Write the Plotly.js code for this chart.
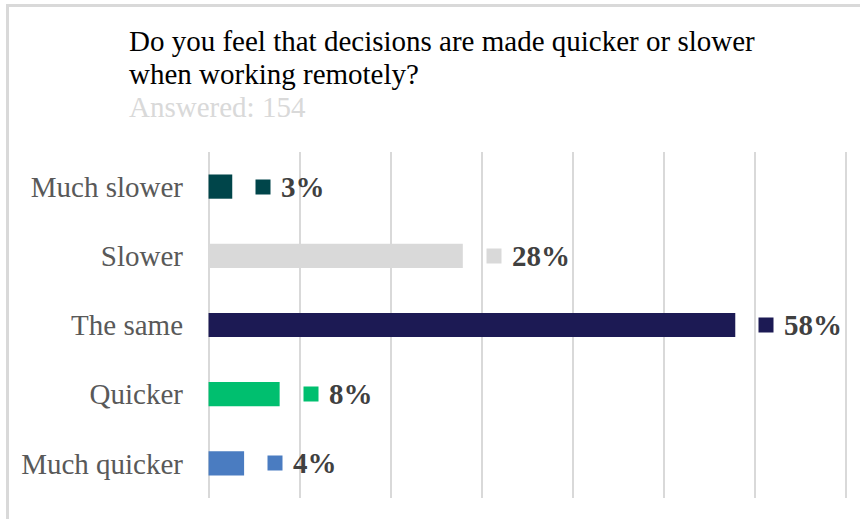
<!DOCTYPE html>
<html>
<head>
<meta charset="utf-8">
<script src="https://cdn.plot.ly/plotly-3.0.1.min.js"></script>
<style>
  html, body { margin: 0; padding: 0; background: #fff; }
  #wrap { position: relative; width: 860px; height: 519px; }
  #frame { position: absolute; left: 6px; top: 4px; right: 0; bottom: 0;
           border-left: 3px solid #d9d9d9; border-top: 3px solid #d9d9d9; pointer-events: none; }
  #chart { width: 860px; height: 519px; }
</style>
</head>
<body>
<div id="wrap">
  <div id="chart"></div>
  <div id="frame"></div>
</div>
<script>
const categories = ["Much slower", "Slower", "The same", "Quicker", "Much quicker"];
const values = [2.6, 27.9, 57.8, 7.8, 3.9];
const labels = ["3%", "28%", "58%", "8%", "4%"];
const colors = ["#00454a", "#d9d9d9", "#1c1a54", "#00bf6f", "#4a7cc1"];
const xTicks = [0, 10, 20, 30, 40, 50, 60, 70];
const titleLines = ["Do you feel that decisions are made quicker or slower", "when working remotely?"];
const subtitle = "Answered: 154";

const serif = 'Liberation Serif, Times New Roman, serif';

// layout geometry (pixels)
const W = 860, H = 519;
const M = { l: 204, r: 9, t: 152, b: 21 };
const plotW = W - M.l - M.r, plotH = H - M.t - M.b;
const pxToPaperX = px => (px - M.l) / plotW;
const pxToPaperY = py => (H - M.b - py) / plotH;

const trace = {
  type: 'bar',
  orientation: 'h',
  x: values,
  y: categories,
  marker: { color: colors, line: { width: 0 } },
  width: 0.35,
  hoverinfo: 'skip'
};

const annotations = [];
categories.forEach((c, i) => {
  annotations.push({
    xref: 'x', yref: 'y', x: values[i], y: c,
    xanchor: 'left', yanchor: 'middle', xshift: 23,
    text: ' ', showarrow: false,
    width: 14, height: 14, borderpad: 0,
    bgcolor: colors[i],
    font: { size: 10 }
  });
  annotations.push({
    xref: 'x', yref: 'y', x: values[i], y: c,
    xanchor: 'left', yanchor: 'middle', xshift: 47,
    text: labels[i], showarrow: false,
    font: { family: serif, size: 29, color: '#404040', weight: 'bold' }
  });
});

// title lines (Times-like tight line spacing)
const titleCenters = [41, 74];
titleLines.forEach((t, i) => {
  annotations.push({
    xref: 'paper', yref: 'paper', x: pxToPaperX(127), y: pxToPaperY(titleCenters[i]),
    xanchor: 'left', yanchor: 'middle', showarrow: false,
    text: t, font: { family: serif, size: 29, color: '#000000' }
  });
});
annotations.push({
  xref: 'paper', yref: 'paper', x: pxToPaperX(127), y: pxToPaperY(107),
  xanchor: 'left', yanchor: 'middle', showarrow: false,
  text: subtitle, font: { family: serif, size: 29, color: '#d9d9d9' }
});

const layout = {
  width: W, height: H,
  margin: { l: M.l, r: M.r, t: M.t, b: M.b, pad: 0 },
  paper_bgcolor: 'rgba(0,0,0,0)',
  plot_bgcolor: 'rgba(0,0,0,0)',
  showlegend: false,
  font: { family: serif },
  xaxis: {
    range: [-0.5, 70.5],
    tickvals: xTicks,
    showticklabels: false,
    showgrid: true, gridcolor: '#d9d9d9', gridwidth: 2,
    zeroline: false, showline: false, fixedrange: true
  },
  yaxis: {
    type: 'category',
    autorange: 'reversed',
    categoryorder: 'array', categoryarray: categories,
    showgrid: false, zeroline: false, showline: false,
    ticks: '', ticklabelstandoff: 20,
    tickfont: { family: serif, size: 29, color: '#595959' },
    fixedrange: true
  },
  annotations: annotations
};

Plotly.newPlot('chart', [trace], layout, { displayModeBar: false, staticPlot: true });
</script>
</body>
</html>
